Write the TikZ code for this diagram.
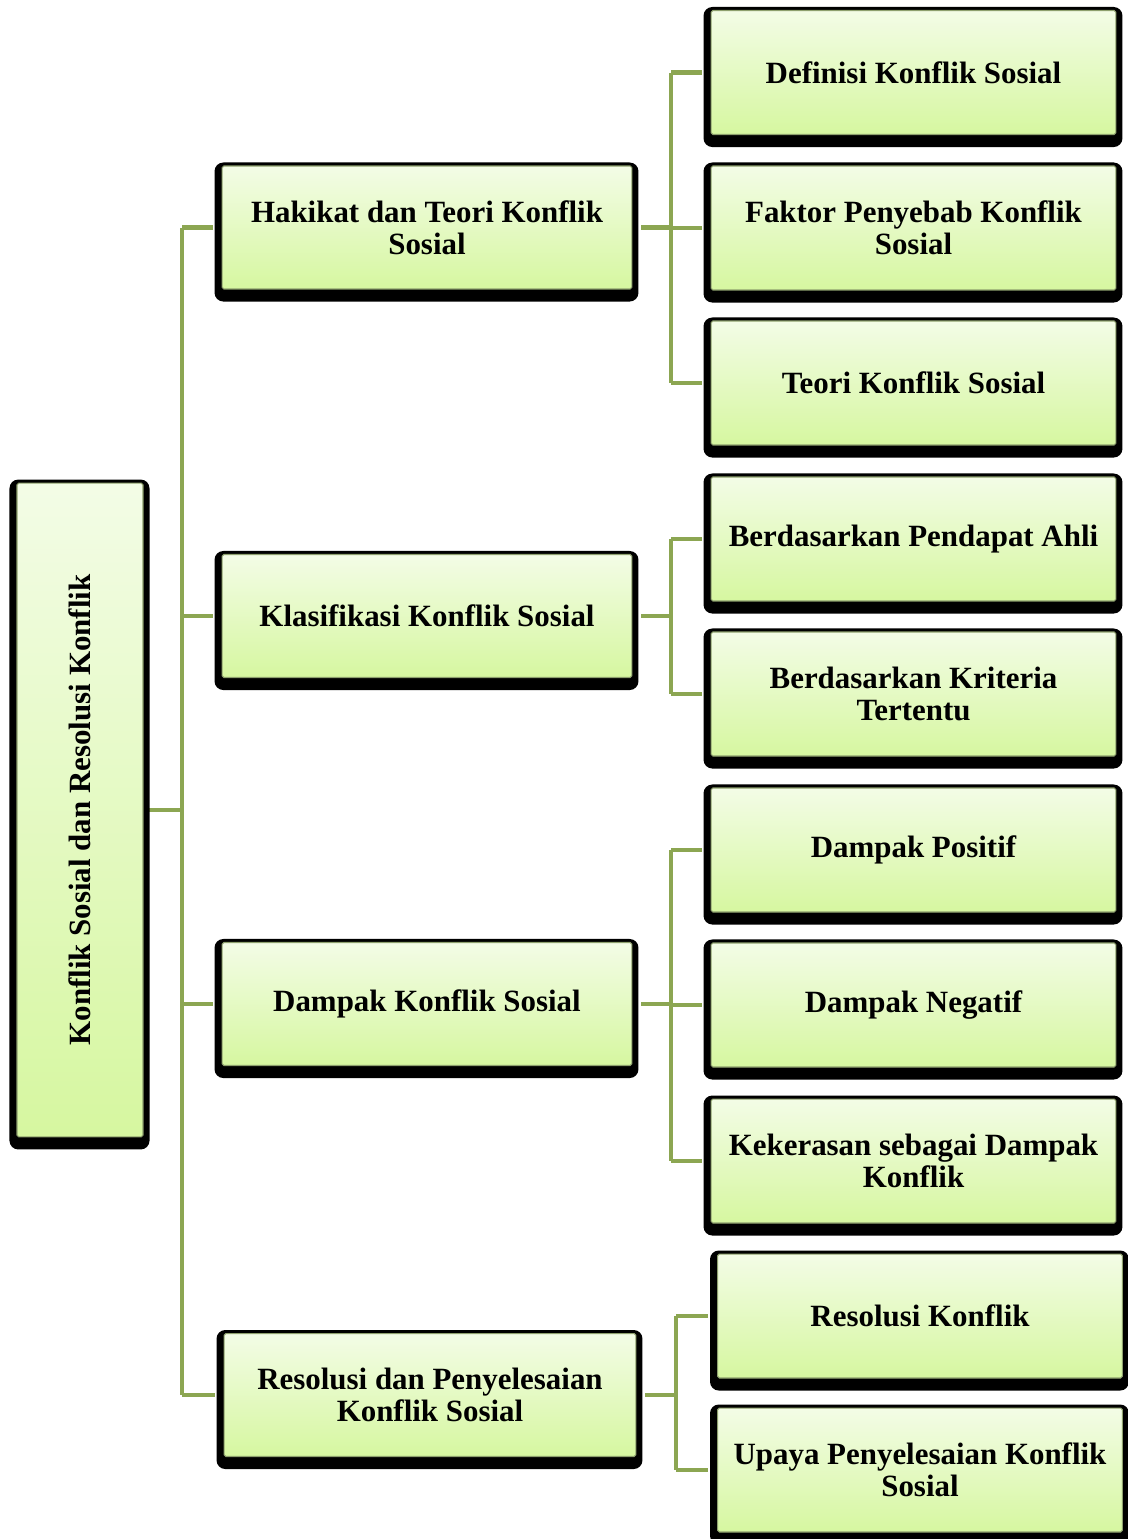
\documentclass[tikz,border=0pt]{standalone}
\usepackage{fontspec}
\setmainfont{Liberation Serif}
\usepackage{tikz}
\usetikzlibrary{backgrounds}
\definecolor{linkgreen}{RGB}{140,166,82}
\definecolor{boxtop}{RGB}{243,252,230}
\definecolor{boxbottom}{RGB}{214,247,160}
\definecolor{boxedge}{RGB}{142,160,110}
\tikzset{
  topic/.style={rectangle, rounded corners=1pt, inner sep=0pt, align=center,
    draw=boxedge, line width=0.6pt, top color=boxtop, bottom color=boxbottom,
    font=\bfseries\fontsize{17.6}{18}\selectfont},
  mainbox/.style={topic, minimum width=8.2cm, minimum height=2.46cm},
  subbox/.style={topic, minimum width=8.1cm, minimum height=2.48cm},
  link/.style={linkgreen, line width=2.8pt}
}

\begin{document}
\begin{tikzpicture}[x=0.02cm, y=-0.02cm]
\useasboundingbox (0,0) rectangle (1127,1539);

\node[topic, minimum width=2.52cm, minimum height=13.08cm](root) at (80,810){\rotatebox{90}{Konflik Sosial dan Resolusi Konflik}};

\node[mainbox](hak) at (427,227.5){Hakikat dan Teori Konflik\\Sosial};
\node[mainbox](kla) at (427,616){Klasifikasi Konflik Sosial};
\node[mainbox](dam) at (427,1004){Dampak Konflik Sosial};
\node[mainbox, minimum width=8.24cm](res) at (430,1395){Resolusi dan Penyelesaian\\Konflik Sosial};

\node[subbox](def) at (913.5,72.5){Definisi Konflik Sosial};
\node[subbox](fak) at (913.5,228){Faktor Penyebab Konflik\\Sosial};
\node[subbox](teo) at (913.5,383){Teori Konflik Sosial};
\node[subbox](pen) at (913.5,539){Berdasarkan Pendapat Ahli};
\node[subbox](kri) at (913.5,694){Berdasarkan Kriteria\\Tertentu};
\node[subbox](pos) at (913.5,850){Dampak Positif};
\node[subbox](neg) at (913.5,1005){Dampak Negatif};
\node[subbox](kek) at (913.5,1161){Kekerasan sebagai Dampak\\Konflik};
\node[subbox](rek) at (920,1316){Resolusi Konflik};
\node[subbox](upa) at (920,1470){Upaya Penyelesaian Konflik\\Sosial};

\coordinate (trunk) at (182,810);
\coordinate (jhak) at (671,0);
\coordinate (jkla) at (671,0);
\coordinate (jdam) at (671,0);
\coordinate (jres) at (676,0);

\begin{scope}[on background layer]
\draw[link](root.east)--(trunk);
\draw[link](trunk |- hak.west)--(trunk |- res.west);
\foreach \n in {hak,kla,dam,res}{
	\draw[link, shorten >=5pt](trunk |- \n.west)--(\n.west);
}
\foreach \p/\a/\b in {hak/def/teo, kla/pen/kri, dam/pos/kek, res/rek/upa}{
	\draw[link, shorten <=5pt](\p.east)--(j\p |- \p.east);
	\draw[link](j\p |- \a.west)--(j\p |- \b.west);
}
\foreach \p/\c in {hak/def, hak/fak, hak/teo, kla/pen, kla/kri, dam/pos, dam/neg, dam/kek, res/rek, res/upa}{
	\draw[link, shorten >=5pt](j\p |- \c.west)--(\c.west);
}
\foreach \n in {root,hak,kla,dam,res,def,fak,teo,pen,kri,pos,neg,kek,rek,upa}{
	\fill[black, rounded corners=5pt]([shift={(-7,12)}]\n.south west) rectangle ([shift={(6,-3)}]\n.north east);
}
\end{scope}
\end{tikzpicture}
\end{document}
